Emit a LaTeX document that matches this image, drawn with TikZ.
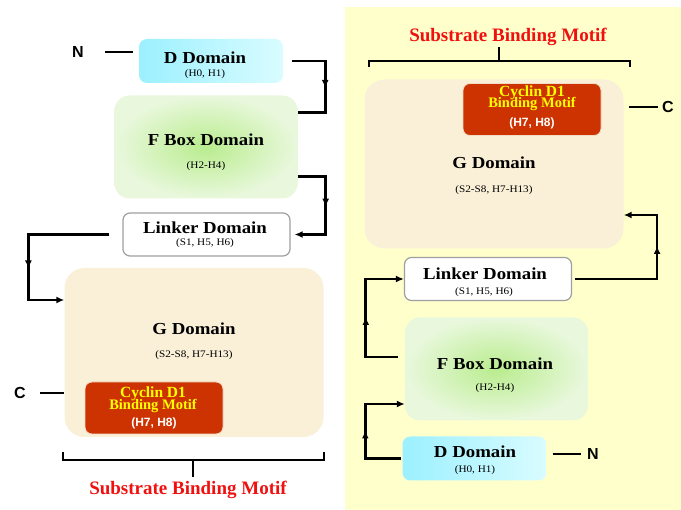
\documentclass[tikz,border=0pt]{standalone}
\usepackage{fontspec}
\setmainfont{Liberation Serif}
\newfontfamily\ttlfont[FakeStretch=1.12]{Liberation Serif}
\newfontfamily\sansfnt{Liberation Sans}
\usetikzlibrary{arrows.meta,decorations.markings,calc}
\definecolor{panel}{HTML}{FFFFCC}
\definecolor{cyanL}{HTML}{9CF0FF}
\definecolor{cyanR}{HTML}{D9FCFF}
\definecolor{greenIn}{HTML}{B9EC8E}
\definecolor{greenOut}{HTML}{E9F8DD}
\definecolor{beige}{HTML}{FAF0D8}
\definecolor{cycred}{HTML}{CC3300}
\definecolor{cycedge}{HTML}{F3DCC4}
\definecolor{cyctext}{HTML}{FFFF00}
\definecolor{redtitle}{HTML}{F01010}
\begin{document}
\begin{tikzpicture}[x=1pt,y=-1pt,
  conn/.style={line width=2.7pt,draw=black},
  endtip/.style={-{Latex[length=8pt,width=7pt]}},
  midtip/.style={decoration={markings,mark=at position #1 with {\arrow{Latex[length=8pt,width=7pt]}}},postaction={decorate}},
  dbox/.style={rounded corners=8pt,left color=cyanL,right color=cyanR,draw=none,inner sep=0pt,minimum width=144pt,minimum height=44pt},
  fbox/.style={rounded corners=15pt,shading=radial,inner color=greenIn,outer color=greenOut,draw=none,inner sep=0pt,minimum width=183pt,minimum height=103pt},
  lbox/.style={rounded corners=7pt,fill=white,draw=gray!75,line width=1.2pt,inner sep=0pt,minimum width=167pt,minimum height=43pt},
  gbox/.style={rounded corners=20pt,fill=beige,draw=none,inner sep=0pt,minimum width=259pt,minimum height=169pt},
  cbox/.style={rounded corners=7pt,fill=cycred,draw=cycedge,line width=0.8pt,inner sep=0pt,minimum width=138pt,minimum height=52pt},
  ttl/.style={font=\ttlfont\bfseries\fontsize{16.8}{17}\selectfont,inner sep=0pt},
  sub/.style={font=\ttlfont\fontsize{10}{10}\selectfont,inner sep=0pt},
  cyc/.style={font=\bfseries\fontsize{15.5}{15.5}\selectfont,text=cyctext,inner sep=0pt,anchor=base},
  cycb/.style={font=\bfseries\fontsize{14.5}{14.5}\selectfont,text=cyctext,inner sep=0pt,anchor=base},
  cysub/.style={font=\sansfnt\bfseries\fontsize{12}{12}\selectfont,text=white,inner sep=0pt,anchor=base},
  nc/.style={font=\sansfnt\bfseries\fontsize{16}{16}\selectfont,inner sep=0pt},
  sbm/.style={font=\bfseries\fontsize{19}{19}\selectfont,text=redtitle,inner sep=0pt},
  brace/.style={line width=2.5pt,draw=black}
]
\useasboundingbox (0,0) rectangle (681,510);
\fill[panel] (345,7) rectangle (681,510);

% ---------------- left ----------------
\node[dbox] (D) at (211,61) {};
\node[fbox] (F) at (206,147) {};
\node[lbox] (L) at (206.5,234.5) {};
\node[gbox] (G) at (194,352.5) {};
\node[cbox] (Cy) at (154,408) {};

\node[ttl] (Dt) at (205,58) {D Domain};
\node[sub] (Ds) at (205,74) {(H0, H1)};
\node[ttl] (Ft) at (206,140) {F Box Domain};
\node[sub] (Fs) at (206,166) {(H2-H4)};
\node[ttl] (Lt) at (205,228) {Linker Domain};
\node[sub] (Ls) at (205,243) {(S1, H5, H6)};
\node[ttl] (Gt) at (194,329) {G Domain};
\node[sub] (Gs) at (194,355) {(S2-S8, H7-H13)};
\node[cyc] (Cy1) at (153,398) {Cyclin D1};
\node[cycb] (Cy2) at (153,409.5) {Binding Motif};
\node[cysub] (Cy3) at (154,427) {(H7, H8)};

\node[nc] (Nl) at (78,52) {N};
\node[nc] (Cl) at (20,393) {C};
\draw[conn] ([xshift=-6pt]D.west |- Nl) -- ++(-28,0) coordinate (nlend);
\draw[conn] ([xshift=14pt]Cl.east) coordinate (clstart) -- (G.west |- Cl);

\draw[conn,midtip=60pt] ([xshift=9pt]D.east) -- ++(33,0) |- ([yshift=-17pt]F.north east);
\draw[conn,midtip=58pt,endtip] ([yshift=22pt]F.south east) -- ++(28,0) |- ([xshift=4pt]L.east);
\draw[conn,midtip=115pt,endtip] ([xshift=-13pt]L.west) -- ++(-81,0) |- ([yshift=52.5pt]G.west);

\coordinate (lb1) at (63,452);
\coordinate (lb2) at (324,452);
\draw[brace] (lb1) -- (63,460) -- (324,460) -- (lb2);
\draw[brace] (193,460) -- (193,477);
\node[sbm] (S1) at (188,490) {Substrate Binding Motif};

% ---------------- right ----------------
\node[gbox] (G2) at (494,164) {};
\node[cbox] (C2) at (532,109.5) {};
\node[lbox] (L2) at (488,279) {};
\node[fbox] (F2) at (496.5,369) {};
\node[dbox] (D2) at (474.5,458.5) {};

\node[cyc] (Cz1) at (532,97) {Cyclin D1};
\node[cycb] (Cz2) at (532,107.5) {Binding Motif};
\node[cysub] (Cz3) at (532,127) {(H7, H8)};
\node[ttl] (Gt2) at (494,163) {G Domain};
\node[sub] (Gs2) at (494,190) {(S2-S8, H7-H13)};
\node[ttl] (Lt2) at (485,274) {Linker Domain};
\node[sub] (Ls2) at (484,292) {(S1, H5, H6)};
\node[ttl] (Ft2) at (495,364) {F Box Domain};
\node[sub] (Fs2) at (495,388) {(H2-H4)};
\node[ttl] (Dt2) at (475,452) {D Domain};
\node[sub] (Ds2) at (475,470) {(H0, H1)};

\node[nc] (Nr) at (593,454) {N};
\node[nc] (Cr) at (668,107) {C};
\draw[conn] ([xshift=6pt]D2.east |- Nr) -- ++(28,0) coordinate (nrend);
\draw[conn] ([xshift=5pt]G2.east |- Cr) -- ++(29,0) coordinate (crend);

\draw[conn,midtip=115pt,endtip] ([xshift=3pt]L2.east) -- ++(82,0) |- ([yshift=-51pt]G2.east);
\draw[conn,midtip=72pt,endtip] ([xshift=-7pt,yshift=12pt]F2.west) -- ++(-32,0) |- (L2.west);
\draw[conn,midtip=64pt,endtip] ([xshift=-1pt]D2.west) -- ++(-36,0) |- ([yshift=-35pt]F2.west);

\coordinate (rb1) at (369,67);
\coordinate (rb2) at (630,67);
\draw[brace] (rb1) -- (369,61) -- (630,61) -- (rb2);
\draw[brace] (499,61) -- (499,47);
\node[sbm] (S2) at (508,37) {Substrate Binding Motif};
\end{tikzpicture}
\end{document}
